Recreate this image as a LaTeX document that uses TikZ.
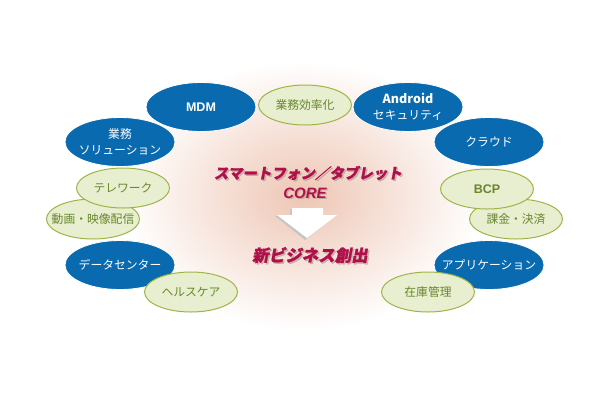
\documentclass[tikz,border=0pt]{standalone}
\usepackage{fontspec}
\setmainfont{Liberation Sans}
\newfontfamily\jp{Noto Sans CJK JP}
\newfontfamily\jpc[FakeSlant=0.18,FakeBold=1.2]{Noto Sans CJK JP}
\usetikzlibrary{shapes.geometric}
\definecolor{bluefill}{RGB}{10,106,176}
\definecolor{greenfill}{RGB}{232,238,208}
\definecolor{greenline}{RGB}{160,180,70}
\definecolor{greentext}{RGB}{105,135,45}
\definecolor{crimson}{RGB}{176,16,74}
\definecolor{peach}{RGB}{238,198,180}
\definecolor{shadowgray}{RGB}{150,130,125}
\begin{document}
\begin{tikzpicture}[x=1pt,y=-1pt,
  blueell/.style={ellipse, fill=bluefill, draw=white, line width=0.8pt,
    minimum width=110pt, minimum height=49pt, inner sep=0pt},
  greenell/.style={ellipse, fill=greenfill, draw=greenline, line width=1pt,
    minimum width=93pt, minimum height=40pt, inner sep=0pt},
  bluetxt/.style={text=white, align=center, inner sep=0pt,
    font=\jp\fontsize{11.8}{15.5}\selectfont},
  bluebold/.style={text=white, align=center, inner sep=0pt,
    font=\bfseries\fontsize{12.5}{15}\selectfont},
  greentxt/.style={text=greentext, inner sep=0pt,
    font=\jp\fontsize{11.8}{13}\selectfont},
  greenbold/.style={text=greentext, inner sep=0pt,
    font=\bfseries\fontsize{12.5}{13}\selectfont},
  coretxt/.style={text=crimson, inner sep=0pt, font=\jpc\bfseries\fontsize{14.5}{16}\selectfont},
  coreshadow/.style={text=shadowgray, opacity=0.45, inner sep=0pt, font=\jpc\bfseries\fontsize{14.5}{16}\selectfont},
]
\useasboundingbox (0,0) rectangle (610,400);
\fill[white] (0,0) rectangle (610,400);
% background glow
\shade[inner color=peach, outer color=white] (303,196) ellipse [x radius=180pt, y radius=135pt];

% top
\node[blueell] (mdm) at (201,107) {};
\node[bluebold] (mdmt) at (mdm) {MDM};
\node[greenell] (gyo) at (305,105) {};
\node[greentxt] (gyot) at (gyo) {業務効率化};
\node[blueell] (and) at (408,107) {};
\node[bluetxt] (andt) at (and) {{\bfseries\fontsize{12.5}{14}\selectfont Android}\\セキュリティ};

% left
\node[blueell] (sol) at (120,142) {};
\node[bluetxt] (solt) at (sol) {業務\\ソリューション};
\node[greenell] (dou) at (93,219) {};
\node[greentxt] (dout) at (dou) {動画・映像配信};
\node[greenell] (tel) at (123,188) {};
\node[greentxt] (telt) at (tel) {テレワーク};
\node[blueell] (dc) at (120,265) {};
\node[bluetxt] (dct) at (dc) {データセンター};
\node[greenell] (hc) at (191,292) {};
\node[greentxt] (hct) at (hc) {ヘルスケア};

% right
\node[blueell] (cl) at (489,142) {};
\node[bluetxt] (clt) at (cl) {クラウド};
\node[greenell] (kak) at (516,219) {};
\node[greentxt] (kakt) at (kak) {課金・決済};
\node[greenell] (bcp) at (487,189) {};
\node[greenbold] (bcpt) at (bcp) {BCP};
\node[blueell] (app) at (489,265) {};
\node[bluetxt] (appt) at (app) {アプリケーション};
\node[greenell] (zai) at (428,292) {};
\node[greentxt] (zait) at (zai) {在庫管理};

% center
\node[coreshadow] at (309.5,174.5) {スマートフォン／タブレット};
\node[coretxt] (sp) at (308,173) {スマートフォン／タブレット};
\node[coreshadow, font=\bfseries\itshape\fontsize{15}{17}\selectfont] at (306.5,194.5) {CORE};
\node[coretxt, font=\bfseries\itshape\fontsize{15}{17}\selectfont] (core) at (305,193) {CORE};

% arrow
\fill[gray!45] (290,209) -- (321,209) -- (321,216) -- (335,216) -- (305,240) -- (275,216) -- (290,216) -- cycle;
\fill[white] (292,208) -- (323,208) -- (323,215) -- (337,215) -- (307,238) -- (277,215) -- (292,215) -- cycle;

\node[coreshadow, font=\jpc\bfseries\fontsize{16.5}{18}\selectfont] at (311.5,256.5) {新ビジネス創出};
\node[coretxt, font=\jpc\bfseries\fontsize{16.5}{18}\selectfont] (new) at (310,255) {新ビジネス創出};
\end{tikzpicture}
\end{document}
